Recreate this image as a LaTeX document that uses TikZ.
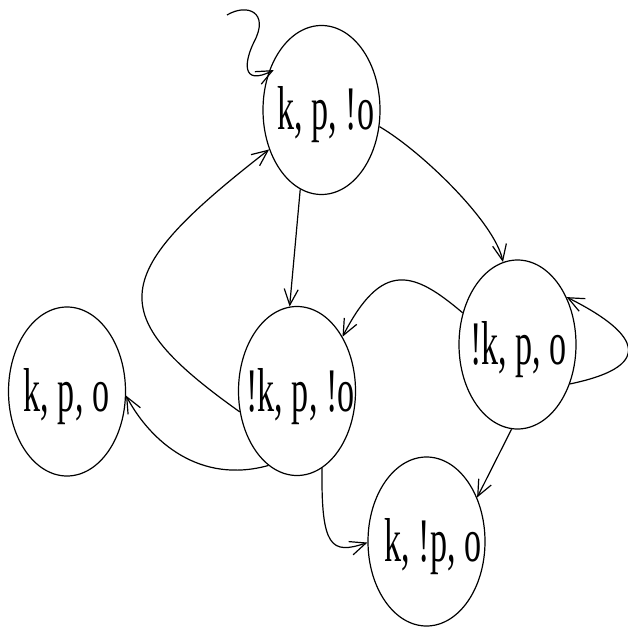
\documentclass[tikz,border=0pt]{standalone}
\usepackage{fontspec}
\setmainfont{Liberation Serif}
\usepackage{graphicx}
\usetikzlibrary{shapes.geometric,arrows.meta}
\tikzset{
  state/.style={draw, ellipse, line width=1.2pt, minimum width=117pt, minimum height=169pt, inner sep=0pt},
  lbl/.style={anchor=base, inner sep=0pt, font=\fontsize{62}{62}\selectfont},
  edge/.style={line width=1.2pt, -{Straight Barb[length=16pt,width=14pt,line width=1.2pt]}}
}
\newcommand{\sq}[1]{\scalebox{0.55}[1]{#1}}
\begin{document}
\begin{tikzpicture}[x=1pt,y=-1pt]
\useasboundingbox (0,0) rectangle (628,628);
% states
\node[state] (A) at (321.5,110) {};
\node[state] (B) at (297,391) {};
\node[state] (C) at (67,391.5) {};
\node[state] (D) at (517.5,344.5) {};
\node[state] (E) at (426.5,541.5) {};
% labels
\node[lbl] (tA) at (326,130) {\sq{k, p, !o}};
\node[lbl] (tB) at (300.5,411.5) {\sq{!k, p, !o}};
\node[lbl] (tC) at (66.5,411.5) {\sq{k, p, o}};
\node[lbl] (tD) at (518.5,364.5) {\sq{!k, p, o}};
\node[lbl] (tE) at (433,561) {\sq{k, !p, o}};
% initial arrow
\coordinate (s0) at (227,15);
\draw[edge, shorten >=-6pt] (s0) .. controls (247,3) and (270,12) .. (254,42)
      .. controls (245,60) and (240,87) .. (A.145);
% transitions
\draw[edge] (A.-16) .. controls (422,151.5) and (495,222.6) .. (D.100);
\draw[edge] (A.-105) -- (B.95);
\draw[edge] (B.-160) .. controls (101.5,313.4) and (109,274) .. (A.217);
\draw[edge] (D.150) .. controls (413.6,271.1) and (382.1,259.7) .. (B.50);
\draw[edge] (D.-37) .. controls (662.7,364.7) and (632.1,329.8) .. (D.44);
\draw[edge] (D.-94) -- (E.41);
\draw[edge] (B.-72) .. controls (321,547) and (331,555) .. (E.181);
\draw[edge] (B.-111) .. controls (200,484.5) and (150.6,441.75) .. (C.-4);
\end{tikzpicture}
\end{document}
